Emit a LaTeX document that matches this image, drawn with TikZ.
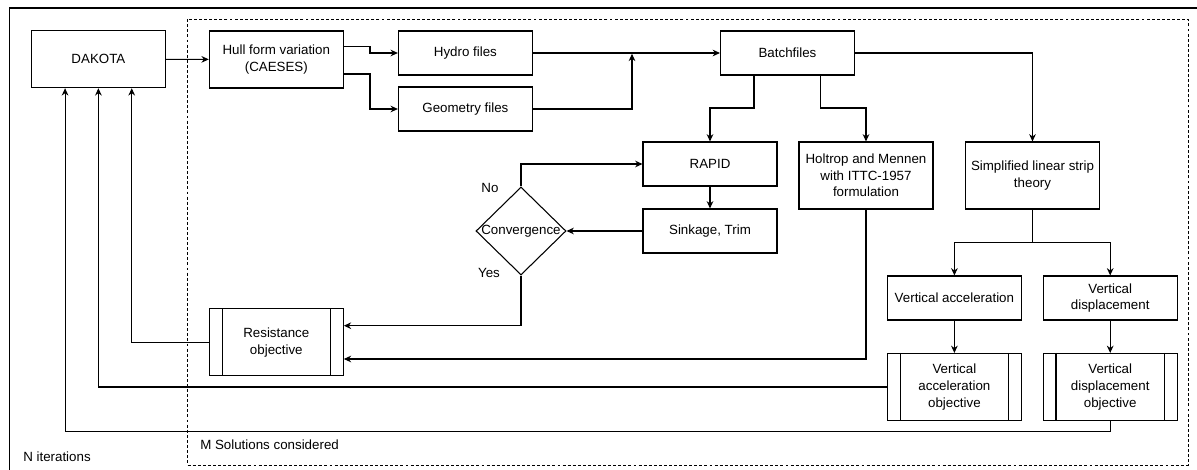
\documentclass[tikz,border=0pt]{standalone}
\usepackage{fontspec}
\setmainfont{Liberation Sans}
\usepackage{tikz}
\usetikzlibrary{arrows.meta,calc,shapes.geometric}

\tikzset{
	box/.style={draw,line width=0.8pt,minimum width=100.5pt,minimum height=33pt,align=center,inner sep=1pt,font=\fontsize{10}{12.5}\selectfont},
	tallbox/.style={box,minimum height=50.25pt},
	arr/.style={line width=0.8pt,-{Stealth[length=5.5pt,width=5pt]}},
	wire/.style={line width=0.8pt},
	txt/.style={font=\fontsize{10}{12.5}\selectfont,inner sep=0pt},
}

\begin{document}
\begin{tikzpicture}[x=0.75pt,y=-0.75pt]
	\useasboundingbox (0,0) rectangle (1197,470);
	\draw[wire] (9.6,470) -- (9.6,8) -- (1197,8);
	\draw[dash pattern=on 2.2pt off 1.6pt,line width=0.6pt] (187.5,19.3) rectangle (1188,465);
	% optimiser and hull generation
	\node[box,minimum height=42.75pt] (dakota) at (98.4,59.2) {DAKOTA};
	\node[box,minimum height=42.75pt] (hull) at (276.3,59.5) {Hull form variation\\(CAESES)};
	\node[box] (hydro) at (465.4,53) {Hydro files};
	\node[box] (geometry) at (465.4,109) {Geometry files};
	\node[box] (batch) at (787.5,53) {Batchfiles};
	% solvers
	\node[box] (rapid) at (710,164) {RAPID};
	\node[box] (sinkage) at (710,231) {Sinkage, Trim};
	\node[tallbox] (holtrop) at (866,175.5) {Holtrop and Mennen\\with ITTC-1957\\formulation};
	\node[tallbox] (strip) at (1032.5,175.5) {Simplified linear strip\\theory};
	\node[draw,line width=0.8pt,diamond,minimum width=67.5pt,minimum height=66pt,inner sep=0pt,
		label={[txt]center:Convergence}] (conv) at (521,231) {};
	\node[txt] (no) at (490,188) {No};
	\node[txt] (yes) at (489,273) {Yes};
	\node[box] (vacc) at (954.4,298) {Vertical acceleration};
	\node[box] (vdisp) at (1110.2,298) {Vertical\\displacement};
	% objectives
	\node[tallbox] (resobj) at (276.3,342.3) {Resistance\\objective};
	\node[tallbox] (vaccobj) at (954.4,387) {Vertical\\acceleration\\objective};
	\node[tallbox] (vdispobj) at (1110.2,387) {Vertical\\displacement\\objective};
	\foreach \n in {resobj,vaccobj,vdispobj} {
		\draw[wire] ([xshift=10pt]\n.north west) -- ([xshift=10pt]\n.south west);
		\draw[wire] ([xshift=-10pt]\n.north east) -- ([xshift=-10pt]\n.south east);
	}
	\node[txt,anchor=west] (msol) at (200,445) {M Solutions considered};
	\node[txt,anchor=west] (niter) at (23,457) {N iterations};
	\coordinate (inA) at ([xshift=-25pt]dakota.south);
	\coordinate (inB) at (dakota.south);
	\coordinate (inC) at ([xshift=25pt]dakota.south);
	\coordinate (split) at (strip.south |- 0,242.3);
	% connectors
	\draw[arr] (dakota) -- (hull);
	\draw[arr] (hull.east |- 0,46.3) -- (370,46.3) |- (hydro);
	\draw[arr] (hull.east |- 0,74) -- (370,74) |- (geometry);
	\draw[arr] (hydro) -- (batch);
	\draw[arr] (geometry) -| (632,53.8);
	\draw[arr] (batch.south -| 754,0) -- (754,108) -| (rapid);
	\draw[arr] (batch.south -| 820.8,0) -- (820.8,108) -| (holtrop);
	\draw[arr] (batch.east) -| (strip);
	\draw[arr] (rapid) -- (sinkage);
	\draw[arr] (sinkage) -- (conv);
	\draw[arr] (conv.north) |- (rapid);
	\draw[arr] (conv.south) |- (resobj.east |- 0,325.7);
	\draw[arr] (holtrop) |- (resobj.east |- 0,359);
	\draw[wire] (strip) -- (split);
	\draw[arr] (split) -| (vacc);
	\draw[arr] (split) -| (vdisp);
	\draw[arr] (vacc) -- (vaccobj);
	\draw[arr] (vdisp) -- (vdispobj);
	\draw[arr] (resobj) -| (inC);
	\draw[arr] (vaccobj) -| (inB);
	\draw[arr] (vdispobj.south) -- (vdispobj.south |- 0,431.7) -| (inA);
\end{tikzpicture}
\end{document}
